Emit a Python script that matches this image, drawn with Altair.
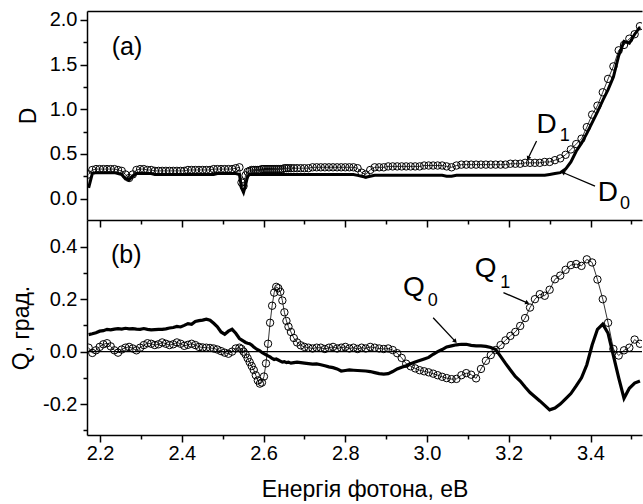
import altair as alt
import pandas as pd

# photon energy grid, eV
E = [
    2.172, 2.181, 2.190, 2.199, 2.208, 2.217, 2.226, 2.235, 2.244, 2.253,
    2.262, 2.271, 2.280, 2.289, 2.298, 2.307, 2.316, 2.325, 2.334, 2.343,
    2.352, 2.361, 2.370, 2.379, 2.388, 2.397, 2.406, 2.415, 2.424, 2.433,
    2.442, 2.451, 2.460, 2.469, 2.478, 2.487, 2.496, 2.505, 2.514, 2.523,
    2.532, 2.541, 2.546, 2.551, 2.556, 2.561, 2.566, 2.571, 2.576, 2.581,
    2.586, 2.591, 2.596, 2.601, 2.606, 2.611, 2.616, 2.621, 2.626, 2.631,
    2.636, 2.641, 2.646, 2.651, 2.656, 2.661, 2.667, 2.674, 2.682, 2.691,
    2.700, 2.710, 2.720, 2.730, 2.740, 2.750, 2.760, 2.770, 2.780, 2.790,
    2.800, 2.810, 2.820, 2.830, 2.840, 2.850, 2.861, 2.872, 2.883, 2.894,
    2.905, 2.916, 2.927, 2.938, 2.949, 2.960, 2.971, 2.982, 2.993, 3.004,
    3.015, 3.026, 3.037, 3.048, 3.060, 3.072, 3.084, 3.096, 3.108, 3.120,
    3.132, 3.144, 3.156, 3.168, 3.180, 3.192, 3.204, 3.216, 3.228, 3.240,
    3.252, 3.264, 3.276, 3.288, 3.300, 3.313, 3.326, 3.339, 3.352, 3.365,
    3.378, 3.391, 3.404, 3.417, 3.430, 3.443, 3.456, 3.469, 3.482, 3.495,
    3.508, 3.521,
]

D0 = [
    0.12, 0.28, 0.29, 0.29, 0.29, 0.29, 0.29, 0.29, 0.28, 0.27,
    0.22, 0.21, 0.25, 0.28, 0.28, 0.28, 0.28, 0.28, 0.27, 0.27,
    0.27, 0.27, 0.27, 0.27, 0.27, 0.27, 0.27, 0.27, 0.27, 0.27,
    0.27, 0.27, 0.27, 0.27, 0.27, 0.28, 0.28, 0.28, 0.28, 0.28,
    0.28, 0.27, 0.12, 0.07, 0.15, 0.25, 0.27, 0.27, 0.27, 0.27,
    0.27, 0.27, 0.27, 0.27, 0.27, 0.27, 0.27, 0.27, 0.27, 0.27,
    0.27, 0.27, 0.27, 0.27, 0.27, 0.27, 0.27, 0.27, 0.27, 0.27,
    0.27, 0.27, 0.27, 0.27, 0.27, 0.27, 0.27, 0.27, 0.27, 0.27,
    0.27, 0.27, 0.27, 0.26, 0.25, 0.24, 0.25, 0.26, 0.26, 0.26,
    0.26, 0.26, 0.26, 0.26, 0.26, 0.26, 0.26, 0.26, 0.26, 0.26,
    0.26, 0.26, 0.26, 0.25, 0.25, 0.26, 0.26, 0.26, 0.26, 0.26,
    0.26, 0.26, 0.26, 0.26, 0.26, 0.26, 0.26, 0.26, 0.26, 0.26,
    0.26, 0.26, 0.26, 0.26, 0.27, 0.28, 0.29, 0.33, 0.41, 0.53,
    0.62, 0.73, 0.85, 0.97, 1.10, 1.22, 1.36, 1.60, 1.76, 1.74,
    1.84, 1.92,
]

D1 = [
    0.27, 0.32, 0.33, 0.33, 0.33, 0.33, 0.33, 0.33, 0.32, 0.31,
    0.27, 0.23, 0.27, 0.32, 0.33, 0.33, 0.32, 0.32, 0.31, 0.31,
    0.31, 0.31, 0.31, 0.31, 0.31, 0.31, 0.31, 0.32, 0.32, 0.32,
    0.32, 0.32, 0.32, 0.32, 0.33, 0.33, 0.33, 0.33, 0.33, 0.33,
    0.34, 0.35, 0.18, 0.14, 0.26, 0.30, 0.31, 0.32, 0.32, 0.32,
    0.32, 0.32, 0.33, 0.33, 0.33, 0.33, 0.33, 0.33, 0.33, 0.33,
    0.33, 0.33, 0.33, 0.34, 0.34, 0.34, 0.34, 0.34, 0.34, 0.34,
    0.34, 0.34, 0.35, 0.35, 0.35, 0.35, 0.35, 0.35, 0.35, 0.35,
    0.35, 0.35, 0.35, 0.34, 0.29, 0.27, 0.32, 0.35, 0.35, 0.35,
    0.36, 0.36, 0.36, 0.36, 0.36, 0.36, 0.36, 0.36, 0.37, 0.37,
    0.37, 0.37, 0.37, 0.36, 0.35, 0.37, 0.38, 0.38, 0.38, 0.38,
    0.38, 0.38, 0.38, 0.38, 0.38, 0.38, 0.39, 0.39, 0.39, 0.40,
    0.40, 0.40, 0.40, 0.41, 0.41, 0.43, 0.45, 0.49, 0.55, 0.61,
    0.67, 0.80, 0.94, 1.04, 1.19, 1.34, 1.48, 1.66, 1.72, 1.79,
    1.84, 1.93,
]

Q0 = [
    0.065, 0.068, 0.072, 0.078, 0.080, 0.085, 0.083, 0.086, 0.088, 0.086,
    0.089, 0.087, 0.088, 0.086, 0.085, 0.088, 0.085, 0.083, 0.084, 0.085,
    0.085, 0.087, 0.090, 0.092, 0.096, 0.094, 0.100, 0.107, 0.104, 0.115,
    0.118, 0.120, 0.124, 0.120, 0.108, 0.095, 0.075, 0.066, 0.078, 0.085,
    0.070, 0.050, 0.045, 0.040, 0.035, 0.032, 0.030, 0.025, 0.018, 0.012,
    0.007, 0.003, -0.003, -0.008, -0.012, -0.016, -0.020, -0.026, -0.030, -0.028,
    -0.032, -0.036, -0.040, -0.038, -0.042, -0.040, -0.044, -0.042, -0.040, -0.042,
    -0.044, -0.046, -0.048, -0.047, -0.050, -0.054, -0.058, -0.061, -0.066, -0.074,
    -0.072, -0.070, -0.071, -0.072, -0.073, -0.074, -0.076, -0.080, -0.084, -0.086,
    -0.084, -0.076, -0.066, -0.060, -0.054, -0.046, -0.040, -0.034, -0.028, -0.022,
    -0.010, 0.000, 0.008, 0.018, 0.022, 0.026, 0.028, 0.028, 0.024, 0.022,
    0.022, 0.020, 0.016, 0.008, -0.018, -0.045, -0.070, -0.095, -0.112, -0.135,
    -0.156, -0.172, -0.188, -0.205, -0.222, -0.215, -0.200, -0.180, -0.160, -0.131,
    -0.100, -0.050, 0.025, 0.085, 0.105, 0.070, -0.015, -0.100, -0.178, -0.140,
    -0.120, -0.112,
]

Q1 = [
    0.015, -0.005, 0.005, 0.018, 0.028, 0.032, 0.020, 0.005, -0.004, 0.008,
    0.015, 0.018, 0.012, 0.005, 0.015, 0.025, 0.032, 0.030, 0.025, 0.028,
    0.035, 0.030, 0.025, 0.028, 0.035, 0.030, 0.022, 0.026, 0.030, 0.025,
    0.018, 0.016, 0.015, 0.014, 0.012, 0.008, 0.002, -0.004, -0.008, 0.000,
    0.012, 0.015, 0.010, 0.000, -0.010, -0.025, -0.040, -0.055, -0.070, -0.090,
    -0.110, -0.122, -0.118, -0.095, -0.045, 0.030, 0.110, 0.175, 0.225, 0.247,
    0.242, 0.228, 0.195, 0.150, 0.117, 0.095, 0.075, 0.052, 0.035, 0.024,
    0.018, 0.015, 0.012, 0.015, 0.015, 0.010, 0.015, 0.018, 0.012, 0.015,
    0.018, 0.012, 0.015, 0.010, 0.015, 0.012, 0.018, 0.015, 0.012, 0.010,
    0.012, 0.006, -0.006, -0.024, -0.046, -0.056, -0.064, -0.071, -0.075, -0.079,
    -0.084, -0.090, -0.096, -0.101, -0.105, -0.104, -0.090, -0.082, -0.088, -0.102,
    -0.066, -0.035, -0.013, 0.006, 0.025, 0.043, 0.060, 0.075, 0.098, 0.128,
    0.168, 0.200, 0.219, 0.213, 0.236, 0.276, 0.290, 0.312, 0.330, 0.334,
    0.327, 0.352, 0.340, 0.275, 0.200, 0.110, 0.010, -0.015, 0.005, 0.015,
    0.046, 0.030,
]

X_MAJOR = [2.2, 2.4, 2.6, 2.8, 3.0, 3.2, 3.4]
X_MINOR = [2.3, 2.5, 2.7, 2.9, 3.1, 3.3, 3.5]
D_MAJOR = [0.0, 0.5, 1.0, 1.5, 2.0]
D_MINOR = [0.25, 0.75, 1.25, 1.75]
Q_MAJOR = [-0.2, 0.0, 0.2, 0.4]
Q_MINOR = [-0.3, -0.1, 0.1, 0.3]

# annotation texts
A_TXT = ["D", "1", "D", "0"]
A_E = [3.268, 3.325, 3.418, 3.472]
A_Y = [0.737, 0.644, -0.028, -0.118]
A_FS = [28, 18, 28, 18]
B_TXT = ["Q", "0", "Q", "1"]
B_E = [2.941, 3.002, 3.117, 3.179]
B_Y = [0.213, 0.175, 0.285, 0.243]
B_FS = [28, 18, 28, 18]
# arrows: start -> end
AR_A = {"E": [3.268, 3.411], "Y": [0.644, 0.140], "E2": [3.248, 3.334], "Y2": [0.457, 0.289], "ang": [206.7, 292.8]}
AR_B = {"E": [3.015, 3.187], "Y": [0.129, 0.225], "E2": [3.068, 3.244], "Y2": [0.041, 0.187], "ang": [136.3, 113.1]}

FONT = "Liberation Sans"
W = 555

df = pd.DataFrame({"E": E, "D0": D0, "D1": D1, "Q0": Q0, "Q1": Q1})
ta = pd.DataFrame({"E": A_E, "Y": A_Y, "t": A_TXT, "fs": A_FS})
tb = pd.DataFrame({"E": B_E, "Y": B_Y, "t": B_TXT, "fs": B_FS})
ara = pd.DataFrame(AR_A)
arb = pd.DataFrame(AR_B)
lab_a = pd.DataFrame({"E": [2.266], "Y": [1.70], "t": ["(a)"]})
lab_b = pd.DataFrame({"E": [2.264], "Y": [0.369], "t": ["(b)"]})
zero = pd.DataFrame({"Y": [0.0]})

xs = alt.Scale(domain=[2.168, 3.526], nice=False, zero=False)
ysa = alt.Scale(domain=[-0.24, 2.1], nice=False, zero=False)
ysb = alt.Scale(domain=[-0.318, 0.502], nice=False, zero=False)

LEXPR = "(datum.value < -0.001 ? '-' : '') + format(abs(datum.value), '.1f')"

base = dict(grid=False, domainColor="black", domainWidth=1.5, tickColor="black",
            tickWidth=1.5, labelFont=FONT, labelFontSize=20, labelColor="black",
            titleFont=FONT, titleFontSize=23, titleColor="black",
            titleFontWeight="normal", labelOverlap=False, labelFlush=False)


def minor_axis(orient, vals):
    return alt.Axis(orient=orient, values=vals, tickSize=4, labels=False,
                    domain=False, title=None, **base)


ax_a_bottom = alt.Axis(orient="bottom", values=X_MAJOR, tickSize=7,
                       labels=False, title=None, **base)
ax_a_top = alt.Axis(orient="top", ticks=False, labels=False, title=None, **base)
ax_b_bottom = alt.Axis(orient="bottom", values=X_MAJOR, tickSize=7,
                       labelExpr=LEXPR, labelPadding=1, titlePadding=15,
                       title="Енергія фотона, еВ", **base)
ax_a_y = alt.Axis(orient="left", values=D_MAJOR, tickSize=7,
                  labelExpr=LEXPR, labelPadding=3, titlePadding=9,
                  title="D", **base)
ax_b_y = alt.Axis(orient="left", values=Q_MAJOR, tickSize=7,
                  labelExpr=LEXPR, labelPadding=3, titlePadding=9,
                  title="Q, град.", **base)

# ---------- panel (a) ----------
a_d0 = alt.Chart(df).mark_line(color="black", strokeWidth=3, clip=True).encode(
    x=alt.X("E:Q", scale=xs, axis=ax_a_bottom),
    y=alt.Y("D0:Q", scale=ysa, axis=ax_a_y))
a_d1l = alt.Chart(df).mark_line(color="black", strokeWidth=0.8, clip=True).encode(
    x=alt.X("E:Q", scale=xs, axis=ax_a_top),
    y=alt.Y("D1:Q", scale=ysa, axis=minor_axis("left", D_MINOR)))
a_d1p = alt.Chart(df).mark_point(shape="circle", size=55, color="black", filled=False,
                                 strokeWidth=1, opacity=1, clip=True).encode(
    x=alt.X("E:Q", scale=xs, axis=minor_axis("bottom", X_MINOR)),
    y=alt.Y("D1:Q", scale=ysa, axis=None))
a_txt = alt.Chart(ta).mark_text(font=FONT, align="left", baseline="alphabetic",
                                color="black").encode(
    x=alt.X("E:Q", scale=xs, axis=None), y=alt.Y("Y:Q", scale=ysa, axis=None),
    text="t:N", size=alt.Size("fs:Q", scale=None))
a_lab = alt.Chart(lab_a).mark_text(font=FONT, fontSize=25, align="center",
                                   baseline="middle", color="black").encode(
    x=alt.X("E:Q", scale=xs, axis=None), y=alt.Y("Y:Q", scale=ysa, axis=None),
    text="t:N")
a_arr = alt.Chart(ara).mark_rule(color="black", strokeWidth=1.3).encode(
    x=alt.X("E:Q", scale=xs, axis=None), y=alt.Y("Y:Q", scale=ysa, axis=None),
    x2="E2:Q", y2="Y2:Q")
a_head = alt.Chart(ara).mark_point(shape="triangle", filled=True, size=24,
                                   color="black", opacity=1).encode(
    x=alt.X("E2:Q", scale=xs, axis=None), y=alt.Y("Y2:Q", scale=ysa, axis=None),
    angle=alt.Angle("ang:Q", scale=None))

panel_a = alt.layer(a_d0, a_d1l, a_d1p, a_txt, a_lab, a_arr, a_head).resolve_axis(
    x="independent", y="independent").properties(width=W, height=209)

# ---------- panel (b) ----------
b_zero = alt.Chart(zero).mark_rule(color="black", strokeWidth=1.3).encode(
    y=alt.Y("Y:Q", scale=ysb, axis=None))
b_q1l = alt.Chart(df).mark_line(color="black", strokeWidth=0.8, clip=True).encode(
    x=alt.X("E:Q", scale=xs, axis=minor_axis("bottom", X_MINOR)),
    y=alt.Y("Q1:Q", scale=ysb, axis=minor_axis("left", Q_MINOR)))
b_q1p = alt.Chart(df).mark_point(shape="circle", size=55, color="black", filled=False,
                                 strokeWidth=1, opacity=1, clip=True).encode(
    x=alt.X("E:Q", scale=xs, axis=None),
    y=alt.Y("Q1:Q", scale=ysb, axis=None))
b_q0 = alt.Chart(df).mark_line(color="black", strokeWidth=3.2, clip=True).encode(
    x=alt.X("E:Q", scale=xs, axis=ax_b_bottom),
    y=alt.Y("Q0:Q", scale=ysb, axis=ax_b_y))
b_txt = alt.Chart(tb).mark_text(font=FONT, align="left", baseline="alphabetic",
                                color="black").encode(
    x=alt.X("E:Q", scale=xs, axis=None), y=alt.Y("Y:Q", scale=ysb, axis=None),
    text="t:N", size=alt.Size("fs:Q", scale=None))
b_lab = alt.Chart(lab_b).mark_text(font=FONT, fontSize=25, align="center",
                                   baseline="middle", color="black").encode(
    x=alt.X("E:Q", scale=xs, axis=None), y=alt.Y("Y:Q", scale=ysb, axis=None),
    text="t:N")
b_arr = alt.Chart(arb).mark_rule(color="black", strokeWidth=1.3).encode(
    x=alt.X("E:Q", scale=xs, axis=None), y=alt.Y("Y:Q", scale=ysb, axis=None),
    x2="E2:Q", y2="Y2:Q")
b_head = alt.Chart(arb).mark_point(shape="triangle", filled=True, size=24,
                                   color="black", opacity=1).encode(
    x=alt.X("E2:Q", scale=xs, axis=None), y=alt.Y("Y2:Q", scale=ysb, axis=None),
    angle=alt.Angle("ang:Q", scale=None))

panel_b = alt.layer(b_zero, b_q1l, b_q1p, b_q0, b_txt, b_lab, b_arr, b_head).resolve_axis(
    x="independent", y="independent").properties(width=W, height=215)

chart = alt.vconcat(panel_a, panel_b, spacing=0, bounds="flush").properties(
    padding={"left": 10, "top": 9, "right": 0, "bottom": 0},
    background="white",
).configure_view(stroke=None)

chart.save("out.html", embed_options={"renderer": "svg", "actions": False})
